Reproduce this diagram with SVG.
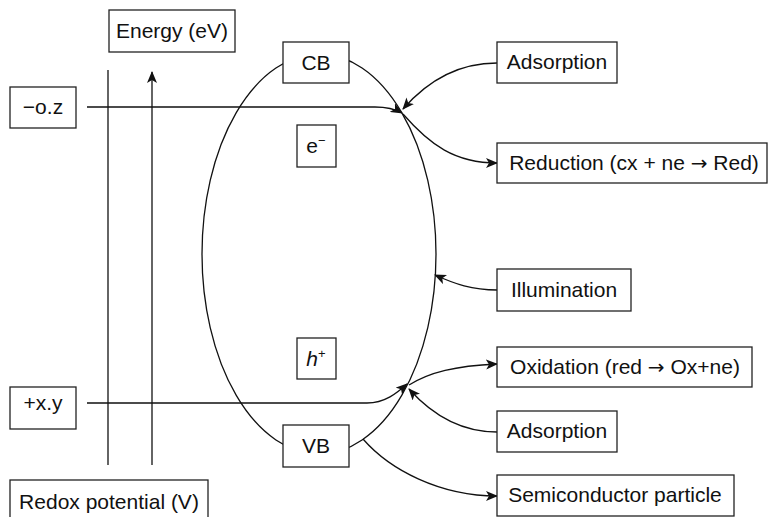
<svg xmlns="http://www.w3.org/2000/svg" width="769" height="517" viewBox="0 0 769 517">
<style>
.box{fill:#fff;stroke:#222;stroke-width:1.3}
.t{font-family:"Liberation Sans",Arial,sans-serif;font-size:21px;fill:#111;text-anchor:middle}
.ln{fill:none;stroke:#111;stroke-width:1.3}
.ar{fill:none;stroke:#111;stroke-width:1.3;marker-end:url(#ah)}
.sym{font-family:"DejaVu Sans",sans-serif;font-size:20px}
</style>
<defs>
<marker id="ah" viewBox="0 0 12 10" refX="11" refY="5" markerWidth="12" markerHeight="10" markerUnits="userSpaceOnUse" orient="auto">
<path d="M0,0 L12,5 L0,10 L3,5 Z" fill="#111"/>
</marker>
</defs>
<rect width="769" height="517" fill="#fff"/>
<g id="axes">
<line class="ln" x1="108" y1="70" x2="108" y2="465"/>
<line class="ar" x1="152" y1="465" x2="152" y2="72"/>
</g>
<g id="particle">
<ellipse class="ln" cx="319" cy="254" rx="117" ry="200"/>
</g>
<g id="connectors">
<path class="ar" d="M497,63 C460,63 430,78 403,109"/>
<path class="ar" d="M87,107 L375,107 C387,107 395,109 402,113"/>
<path class="ar" d="M403,114 C430,145 455,163 497,163"/>
<path class="ar" d="M497,290 C472,290 455,284 435,275"/>
<path class="ar" d="M87,403 L367,403 C385,403 397,393 407,384"/>
<path class="ar" d="M409,385 C430,372 455,366 497,364"/>
<path class="ar" d="M497,432 C465,432 435,418 409,389"/>
<path class="ar" d="M363,439 C390,470 440,496 497,496"/>
</g>
<g id="energy"><rect class="box" x="109" y="10" width="126" height="42"/><text class="t" x="172" y="38">Energy (eV)</text></g>
<g id="oz"><rect class="box" x="10" y="87" width="66" height="41"/><text class="t" x="43" y="114">−o.z</text></g>
<g id="xy"><rect class="box" x="10" y="387" width="66" height="42"/><text class="t" x="43" y="410">+x.y</text></g>
<g id="redox"><rect class="box" x="10" y="480" width="198" height="45"/><text class="t" x="109" y="509">Redox potential (V)</text></g>
<g id="cb"><rect class="box" x="283" y="42" width="66" height="41"/><text class="t" x="316" y="70">CB</text></g>
<g id="e"><rect class="box" x="297" y="125" width="39" height="42"/><text class="t" x="316" y="153">e<tspan font-size="13" dy="-8">−</tspan></text></g>
<g id="h"><rect class="box" x="297" y="338" width="39" height="41"/><text class="t" x="316" y="366"><tspan font-style="italic">h</tspan><tspan font-size="13" dy="-8">+</tspan></text></g>
<g id="vb"><rect class="box" x="283" y="425" width="66" height="42"/><text class="t" x="316" y="453">VB</text></g>
<g id="ads1"><rect class="box" x="497" y="42" width="120" height="41"/><text class="t" x="557" y="69">Adsorption</text></g>
<g id="red"><rect class="box" x="497" y="143" width="270" height="40"/><text class="t" x="634" y="170">Reduction (cx + ne <tspan class="sym">→</tspan> Red)</text></g>
<g id="ill"><rect class="box" x="497" y="269" width="134" height="42"/><text class="t" x="564" y="297">Illumination</text></g>
<g id="ox"><rect class="box" x="497" y="347" width="255" height="40"/><text class="t" x="625" y="374">Oxidation (red <tspan class="sym">→</tspan> Ox+ne)</text></g>
<g id="ads2"><rect class="box" x="497" y="411" width="120" height="41"/><text class="t" x="557" y="438">Adsorption</text></g>
<g id="semi"><rect class="box" x="497" y="475" width="237" height="41"/><text class="t" x="615" y="502">Semiconductor particle</text></g>
</svg>
